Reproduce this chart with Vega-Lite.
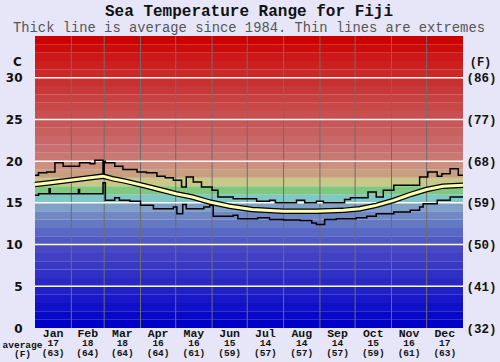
{
  "$schema": "https://vega.github.io/schema/vega-lite/v6.json",
  "width": 428,
  "height": 292,
  "autosize": {"type": "none"},
  "padding": {"left": 35, "top": 36, "right": 37, "bottom": 34},
  "background": "#e6e6f8",
  "config": {"view": {"stroke": null}},
  "title": {
    "text": "Sea Temperature Range for Fiji",
    "subtitle": "Thick line is average since 1984. Thin lines are extremes",
    "font": "Liberation Mono", "fontSize": 16, "fontWeight": "bold", "color": "#111",
    "subtitleFont": "Liberation Mono", "subtitleFontSize": 13.8, "subtitleColor": "#555",
    "subtitlePadding": 2, "offset": 1, "anchor": "middle"
  },
  "datasets": {
    "bands": [
      {"lo": 0, "hi": 1, "color": "#0000c8"}, {"lo": 1, "hi": 2, "color": "#0808c8"},
      {"lo": 2, "hi": 3, "color": "#1010c8"}, {"lo": 3, "hi": 4, "color": "#1818c8"},
      {"lo": 4, "hi": 5, "color": "#2020c8"}, {"lo": 5, "hi": 6, "color": "#2828c4"},
      {"lo": 6, "hi": 7, "color": "#3030c4"}, {"lo": 7, "hi": 8, "color": "#3838c4"},
      {"lo": 8, "hi": 9, "color": "#4040c4"}, {"lo": 9, "hi": 10, "color": "#4848c4"},
      {"lo": 10, "hi": 11, "color": "#5058c4"}, {"lo": 11, "hi": 12, "color": "#5868c4"},
      {"lo": 12, "hi": 13, "color": "#6478c4"}, {"lo": 13, "hi": 14, "color": "#7088c4"},
      {"lo": 14, "hi": 15, "color": "#80a0c8"}, {"lo": 15, "hi": 16, "color": "#80c8c8"},
      {"lo": 16, "hi": 17, "color": "#80c880"}, {"lo": 17, "hi": 18, "color": "#c8c888"},
      {"lo": 18, "hi": 19, "color": "#c8a080"}, {"lo": 19, "hi": 20, "color": "#cc9080"},
      {"lo": 20, "hi": 21, "color": "#c87870"}, {"lo": 21, "hi": 22, "color": "#c87070"},
      {"lo": 22, "hi": 23, "color": "#c86868"}, {"lo": 23, "hi": 24, "color": "#c86060"},
      {"lo": 24, "hi": 25, "color": "#c85858"}, {"lo": 25, "hi": 26, "color": "#c85050"},
      {"lo": 26, "hi": 27, "color": "#c84848"}, {"lo": 27, "hi": 28, "color": "#c84040"},
      {"lo": 28, "hi": 29, "color": "#c83838"}, {"lo": 29, "hi": 30, "color": "#c83030"},
      {"lo": 30, "hi": 31, "color": "#cc2828"}, {"lo": 31, "hi": 32, "color": "#cc2020"},
      {"lo": 32, "hi": 33, "color": "#cc1818"}, {"lo": 33, "hi": 34, "color": "#cc0c0c"},
      {"lo": 34, "hi": 35, "color": "#cc0000"}
    ],
    "hlines": [{"v": 5}, {"v": 10}, {"v": 15}, {"v": 20}, {"v": 25}, {"v": 30}],
    "vlines": [{"d": 31}, {"d": 59}, {"d": 90}, {"d": 120}, {"d": 151}, {"d": 181}, {"d": 212}, {"d": 243}, {"d": 273}, {"d": 304}, {"d": 334}],
    "maxT": [
      {"day": 0, "t": 18.3}, {"day": 3, "t": 18.6}, {"day": 10, "t": 18.7}, {"day": 17, "t": 19.8},
      {"day": 24, "t": 19.4}, {"day": 38, "t": 19.8}, {"day": 47, "t": 19.7}, {"day": 51, "t": 20.1},
      {"day": 58, "t": 18.0}, {"day": 59, "t": 20.0}, {"day": 60, "t": 19.8}, {"day": 68, "t": 19.4},
      {"day": 75, "t": 19.0}, {"day": 87, "t": 18.7}, {"day": 95, "t": 18.6}, {"day": 104, "t": 18.2},
      {"day": 111, "t": 18.0}, {"day": 118, "t": 17.7}, {"day": 125, "t": 16.9}, {"day": 129, "t": 18.1},
      {"day": 135, "t": 17.5}, {"day": 142, "t": 16.9}, {"day": 151, "t": 16.5}, {"day": 156, "t": 15.7},
      {"day": 169, "t": 15.5}, {"day": 189, "t": 15.2}, {"day": 200, "t": 15.3}, {"day": 205, "t": 15.0},
      {"day": 223, "t": 15.3}, {"day": 230, "t": 15.0}, {"day": 240, "t": 15.2}, {"day": 246, "t": 15.0},
      {"day": 264, "t": 15.4}, {"day": 269, "t": 15.6}, {"day": 284, "t": 16.3}, {"day": 291, "t": 15.7},
      {"day": 297, "t": 16.5}, {"day": 306, "t": 17.1}, {"day": 328, "t": 18.1}, {"day": 335, "t": 18.7},
      {"day": 343, "t": 18.2}, {"day": 347, "t": 18.5}, {"day": 354, "t": 19.1}, {"day": 361, "t": 18.3},
      {"day": 365, "t": 18.3}
    ],
    "minT": [
      {"day": 0, "t": 15.9}, {"day": 3, "t": 16.1}, {"day": 12, "t": 16.7}, {"day": 13, "t": 16.1},
      {"day": 37, "t": 16.6}, {"day": 38, "t": 16.1}, {"day": 58, "t": 17.4}, {"day": 60, "t": 15.3},
      {"day": 68, "t": 15.6}, {"day": 72, "t": 15.3}, {"day": 81, "t": 15.2}, {"day": 90, "t": 14.7},
      {"day": 101, "t": 14.3}, {"day": 118, "t": 14.5}, {"day": 121, "t": 13.7}, {"day": 126, "t": 14.8},
      {"day": 129, "t": 14.3}, {"day": 144, "t": 14.5}, {"day": 149, "t": 14.7}, {"day": 152, "t": 13.4},
      {"day": 169, "t": 13.5}, {"day": 173, "t": 13.1}, {"day": 190, "t": 13.2}, {"day": 200, "t": 13.0},
      {"day": 212, "t": 12.95}, {"day": 226, "t": 12.9}, {"day": 236, "t": 12.6}, {"day": 240, "t": 12.4},
      {"day": 247, "t": 13.0}, {"day": 257, "t": 13.1}, {"day": 274, "t": 13.2}, {"day": 283, "t": 13.4},
      {"day": 291, "t": 13.7}, {"day": 306, "t": 13.9}, {"day": 320, "t": 14.1}, {"day": 328, "t": 14.5},
      {"day": 331, "t": 14.9}, {"day": 343, "t": 15.3}, {"day": 354, "t": 15.7}, {"day": 365, "t": 15.7}
    ],
    "avgT": [
      {"day": 0, "t": 17.2}, {"day": 13, "t": 17.4}, {"day": 30, "t": 17.7}, {"day": 47, "t": 18.0},
      {"day": 58, "t": 18.2}, {"day": 66, "t": 17.9}, {"day": 77, "t": 17.6}, {"day": 92, "t": 17.1},
      {"day": 106, "t": 16.6}, {"day": 120, "t": 16.1}, {"day": 134, "t": 15.7}, {"day": 149, "t": 15.1},
      {"day": 166, "t": 14.6}, {"day": 185, "t": 14.2}, {"day": 212, "t": 14.0}, {"day": 240, "t": 14.0},
      {"day": 263, "t": 14.1}, {"day": 277, "t": 14.3}, {"day": 291, "t": 14.7}, {"day": 306, "t": 15.3},
      {"day": 320, "t": 16.0}, {"day": 334, "t": 16.6}, {"day": 348, "t": 17.0}, {"day": 365, "t": 17.1}
    ],
    "months": [
      {"mid": 15.5, "name": "Jan", "c": "17", "f": "(63)"},
      {"mid": 45, "name": "Feb", "c": "18", "f": "(64)"},
      {"mid": 74.5, "name": "Mar", "c": "18", "f": "(64)"},
      {"mid": 105, "name": "Apr", "c": "16", "f": "(64)"},
      {"mid": 135.5, "name": "May", "c": "16", "f": "(61)"},
      {"mid": 166, "name": "Jun", "c": "15", "f": "(59)"},
      {"mid": 196.5, "name": "Jul", "c": "14", "f": "(57)"},
      {"mid": 227.5, "name": "Aug", "c": "14", "f": "(57)"},
      {"mid": 258, "name": "Sep", "c": "14", "f": "(57)"},
      {"mid": 288.5, "name": "Oct", "c": "15", "f": "(59)"},
      {"mid": 319, "name": "Nov", "c": "16", "f": "(61)"},
      {"mid": 349.5, "name": "Dec", "c": "17", "f": "(63)"}
    ]
  },
  "resolve": {"axis": {"y": "independent"}},
  "layer": [
    {
      "data": {"name": "bands"},
      "mark": {"type": "rect"},
      "encoding": {
        "x": {"datum": 0, "type": "quantitative",
          "scale": {"domain": [0, 365], "nice": false, "zero": false},
          "axis": {"labels": false, "ticks": false, "domain": false, "grid": false,
            "title": ["average", "(F)"], "titleFont": "Liberation Mono", "titleFontSize": 9.5,
            "titleFontWeight": "bold", "titleColor": "#111", "titleX": -13, "titleY": 11,
            "titleAlign": "center", "titleBaseline": "top", "titleLineHeight": 9.5}},
        "x2": {"datum": 365},
        "y": {"field": "lo", "type": "quantitative",
          "scale": {"domain": [0, 35], "nice": false, "zero": false},
          "axis": {"orient": "left", "values": [0, 5, 10, 15, 20, 25, 30], "ticks": false, "domain": false,
            "grid": false, "labelFont": "DejaVu Sans", "labelFontWeight": "bold", "labelFontSize": 12,
            "labelColor": "#111", "labelPadding": 13, "labelFlush": false, "labelOverlap": false,
            "title": "C", "titleAngle": 0, "titleFont": "DejaVu Sans", "titleFontWeight": "bold",
            "titleFontSize": 12, "titleColor": "#111", "titleX": -18, "titleY": 25,
            "titleAlign": "center", "titleBaseline": "middle"}},
        "y2": {"field": "hi"},
        "color": {"field": "color", "type": "nominal", "scale": null}
      }
    },
    {
      "data": {"name": "vlines"},
      "mark": {"type": "rule", "color": "#6e6e6e", "strokeWidth": 1},
      "encoding": {"x": {"field": "d", "type": "quantitative"}}
    },
    {
      "data": {"name": "hlines"},
      "mark": {"type": "rule", "color": "#ffffff", "strokeWidth": 1.5},
      "encoding": {
        "y": {"field": "v", "type": "quantitative",
          "axis": {"orient": "right", "values": [0, 5, 10, 15, 20, 25, 30], "ticks": false, "domain": false,
            "grid": false, "labelExpr": "'(' + format(datum.value * 9 / 5 + 32, 'd') + ')'",
            "labelFont": "Liberation Mono", "labelFontWeight": "bold", "labelFontSize": 12.5,
            "labelColor": "#111", "labelPadding": 3, "labelFlush": false, "labelOverlap": false,
            "title": "(F)", "titleAngle": 0, "titleFont": "Liberation Mono", "titleFontWeight": "bold",
            "titleFontSize": 12, "titleColor": "#111", "titleX": 17, "titleY": 25,
            "titleAlign": "center", "titleBaseline": "middle"}}
      }
    },
    {
      "data": {"name": "maxT"},
      "mark": {"type": "line", "interpolate": "step-after", "color": "#000000", "strokeWidth": 1.5},
      "encoding": {"x": {"field": "day", "type": "quantitative"}, "y": {"field": "t", "type": "quantitative", "axis": null}}
    },
    {
      "data": {"name": "minT"},
      "mark": {"type": "line", "interpolate": "step-after", "color": "#000000", "strokeWidth": 1.5},
      "encoding": {"x": {"field": "day", "type": "quantitative"}, "y": {"field": "t", "type": "quantitative", "axis": null}}
    },
    {
      "data": {"name": "avgT"},
      "mark": {"type": "line", "color": "#000000", "strokeWidth": 5.5},
      "encoding": {"x": {"field": "day", "type": "quantitative"}, "y": {"field": "t", "type": "quantitative", "axis": null}}
    },
    {
      "data": {"name": "avgT"},
      "mark": {"type": "line", "color": "#ffffb0", "strokeWidth": 3},
      "encoding": {"x": {"field": "day", "type": "quantitative"}, "y": {"field": "t", "type": "quantitative", "axis": null}}
    },
    {
      "data": {"name": "months"},
      "mark": {"type": "text", "font": "Liberation Mono", "fontWeight": "bold", "fontSize": 11.5, "color": "#111", "baseline": "middle", "dy": 5.5},
      "encoding": {"x": {"field": "mid", "type": "quantitative"}, "y": {"datum": 0, "axis": null}, "text": {"field": "name"}}
    },
    {
      "data": {"name": "months"},
      "mark": {"type": "text", "font": "Liberation Mono", "fontWeight": "bold", "fontSize": 9.5, "color": "#111", "baseline": "middle", "dy": 15},
      "encoding": {"x": {"field": "mid", "type": "quantitative"}, "y": {"datum": 0, "axis": null}, "text": {"field": "c"}}
    },
    {
      "data": {"name": "months"},
      "mark": {"type": "text", "font": "Liberation Mono", "fontWeight": "bold", "fontSize": 9.5, "color": "#111", "baseline": "middle", "dy": 24.5},
      "encoding": {"x": {"field": "mid", "type": "quantitative"}, "y": {"datum": 0, "axis": null}, "text": {"field": "f"}}
    }
  ]
}
